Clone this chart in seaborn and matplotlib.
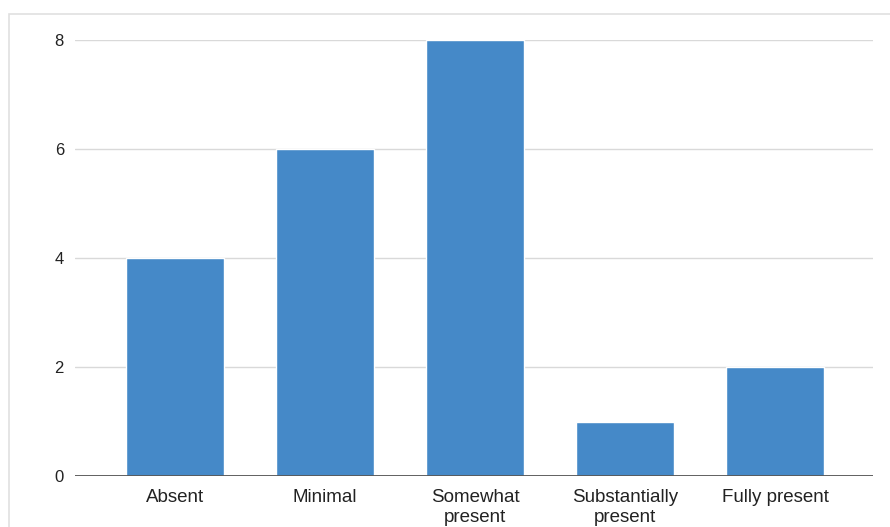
import matplotlib
matplotlib.use("Agg")
import matplotlib.pyplot as plt
import seaborn as sns
import pandas as pd
from matplotlib.patches import Rectangle

categories = ["Absent", "Minimal", "Somewhat\npresent", "Substantially\npresent", "Fully present"]
values = [4, 6, 8, 1, 2]
yticks = [0, 2, 4, 6, 8]

sns.set_theme(style="white")
plt.rcParams['font.family'] = ['Liberation Sans', 'DejaVu Sans']

fig = plt.figure(figsize=(8.9, 5.27), dpi=100)
ax = fig.add_axes([75/890, 1-476/527, (873-75)/890, (476-40)/527])

df = pd.DataFrame({"cat": categories, "val": values})
sns.barplot(data=df, x="cat", y="val", color="#4589c8", saturation=1, width=0.65, ax=ax, zorder=3)

ax.set_xlim(-0.667, 4.653)
ax.set_ylim(0, 8)
ax.set_yticks(yticks)
ax.set_xlabel("")
ax.set_ylabel("")
for s in ax.spines.values():
    s.set_visible(False)
ax.grid(axis="y", color="#d9d9d9", linewidth=1, zorder=0)
ax.axhline(0, color="#555555", linewidth=1.3, zorder=4)
ax.tick_params(axis="both", length=0, colors="#222222")
ax.tick_params(axis="y", pad=8, labelsize=12)
ax.tick_params(axis="x", pad=9, labelsize=13.5)
for t in ax.get_xticklabels():
    t.set_linespacing(1.25)

fig.patches.append(Rectangle((9/890, -0.1), 1.2, 1 - 14/527 + 0.1, transform=fig.transFigure,
                             fill=False, edgecolor="#e0e0e0", linewidth=1.2))

fig.savefig("out.png", dpi=100)
